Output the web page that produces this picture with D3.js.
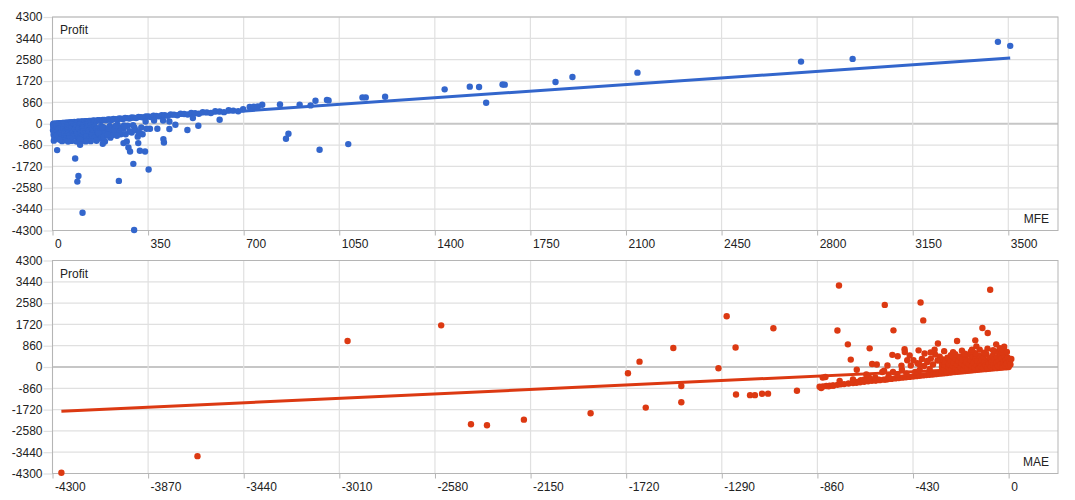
<!DOCTYPE html>
<html>
<head>
<meta charset="utf-8">
<script src="https://cdn.jsdelivr.net/npm/d3@7"></script>
<style>
  body { margin: 0; background: #fff; }
  svg { font-family: "Liberation Sans", Arial, sans-serif; font-size: 12px; }
</style>
</head>
<body>
<svg id="chart" width="1075" height="500"></svg>
<script>
const profitTicks = [-4300, -3440, -2580, -1720, -860, 0, 860, 1720, 2580, 3440, 4300];
const mfeTicks = [0, 350, 700, 1050, 1400, 1750, 2100, 2450, 2800, 3150, 3500];
const maeTicks = [-4300, -3870, -3440, -3010, -2580, -2150, -1720, -1290, -860, -430, 0];

// [MFE, Profit]
const mfePoints = [
  [3,0],[6,-8],[9,6],[12,4],[15,-12],[18,14],[21,10],[24,2],[27,22],[30,20],[34,8],[37,30],[40,28],[44,18],
  [47,40],[50,36],[54,26],[57,48],[61,46],[65,36],[68,58],[72,56],[76,46],[80,68],[84,66],[88,56],[92,80],
  [96,78],[100,66],[105,90],[110,88],[114,76],[119,102],[124,100],[129,88],[134,116],[139,112],[144,100],
  [149,128],[155,126],[160,112],[166,142],[172,140],[178,126],[184,158],[190,154],[196,140],[203,174],
  [210,170],[216,156],[223,192],[230,188],[237,172],[244,212],[251,206],[258,190],[266,232],[274,226],
  [282,208],[290,252],[298,246],[306,228],[315,274],[324,268],[333,250],[342,298],[351,292],[360,272],
  [370,322],[380,316],[390,296],[400,348],[411,340],[422,318],[433,376],[445,366],[457,344],[469,404],
  [482,394],[495,372],[508,436],[522,426],[536,402],[550,470],[565,458],[580,432],[596,506],[612,494],
  [628,468],[645,544],[662,530],[680,505],[698,582],
  [2,-40],[4,-90],[3,-150],[6,-210],[2,-260],[5,-320],[8,-380],[4,-440],[10,-500],[7,-560],[12,-20],
  [14,-110],[16,-180],[13,-240],[18,-300],[15,-360],[20,-420],[17,-470],[22,-540],[25,-60],[27,-130],
  [24,-200],[29,-270],[31,-340],[28,-400],[33,-460],[36,-520],[38,-600],[40,-30],[42,-95],[44,-165],
  [41,-230],[46,-290],[48,-350],[45,-410],[50,-480],[52,-540],[55,-75],[58,-140],[56,-210],[60,-260],
  [62,-330],[59,-390],[64,-450],[66,-620],[70,-40],[72,-115],[69,-190],[74,-250],[76,-310],[73,-370],
  [78,-430],[80,-500],[84,-85],[86,-160],[83,-220],[88,-280],[90,-350],[92,-420],[95,-560],[98,-40],
  [100,-120],[97,-190],[103,-250],[105,-320],[102,-400],[108,-470],[110,-520],[112,-70],[115,-150],
  [118,-230],[114,-300],[120,-380],[124,-450],[127,-30],[130,-110],[128,-190],[133,-270],[136,-340],
  [140,-60],[143,-150],[146,-230],[150,-300],[148,-390],[155,-100],[158,-460],[162,-200],[165,-320],
  [170,-540],[175,-250],[180,-420],[186,-140],[190,-360],[196,-480],[202,-250],[210,-90],[215,-380],
  [222,-180],[230,-300],[240,-120],[250,-420],[260,-200],[275,-80],[290,-350],[300,-150],
  [125,-520],[135,-600],[145,-470],[152,-560],[168,-380],[175,-600],[178,-90],[195,-300],[205,-170],
  [212,-560],[218,-460],[226,-240],[245,-330],[252,-170],[268,-420],[282,-300],[295,-60],[305,-260],
  [312,-520],[325,-150],[330,-420],
  [5,-680],[35,-700],[48,-660],[70,-690],[88,-720],[115,-680],[140,-700],[20,-600],[62,-580],[98,-610],
  [122,-711],[161,-686],[192,-711],[183,-149],[238,-40],[262,-69],[341,93],[372,133],[405,133],
  [428,93],[514,230],[27,-646],[57,-715],[101,-646],
  [612,162],[534,-81],[494,-254],[450,-40],[428,-214],[406,-618],[408,-755],[384,-202],[357,-202],
  [344,-202],[352,-1845],[339,-1118],[320,-1090],[314,-780],[317,-351],[299,-4280],[296,-1615],
  [284,-1118],[278,-957],[272,-715],[260,-780],[243,-2302],[236,-485],[264,-109],[232,-81],[186,-537],
  [184,-808],[201,-444],[110,-3582],[95,-2100],[91,-2330],[83,-1401],[101,-848],[17,-1062],
  [722,674],[737,686],[752,699],[768,767],[833,779],[905,767],[945,739],[963,929],[1005,960],[1011,941],
  [1135,1062],[1147,1062],[1218,1090],[1436,1385],[1528,1494],[1562,1482],[1588,848],[1648,1580],
  [1656,1575],[1842,1684],[1904,1886],[2142,2059],[2741,2503],[2930,2612],[3462,3299],[3507,3137],
  [864,-404],[855,-606],[978,-1050],[1083,-820]
];

// [MAE, Profit]
const maePoints = [
  [-850,-800],[-835,-790],[-820,-770],[-805,-760],[-790,-745],[-770,-720],[-755,-700],[-740,-690],
  [-720,-665],[-700,-650],[-685,-640],[-668,-620],[-650,-600],[-632,-580],[-615,-560],[-598,-545],
  [-580,-530],[-562,-510],[-545,-495],[-528,-480],[-510,-460],[-494,-445],[-478,-430],[-462,-415],
  [-446,-400],[-430,-385],[-415,-370],[-400,-355],[-385,-340],[-370,-328],[-356,-315],[-342,-300],
  [-328,-288],[-315,-275],[-302,-262],[-290,-250],[-278,-240],[-266,-228],[-254,-216],[-242,-205],
  [-230,-195],[-218,-184],[-206,-172],[-195,-162],[-184,-152],[-173,-142],[-162,-132],[-151,-122],
  [-140,-112],[-130,-104],[-120,-95],[-110,-86],[-100,-78],[-90,-70],[-80,-62],[-70,-54],[-60,-46],
  [-50,-38],[-40,-30],[-30,-22],[-20,-15],[-10,-8],[0,0],
  [-836,-427],[-665,-536],[-680,-604],[-650,-508],[-627,-427],[-598,-536],[-583,-508],[-554,-508],
  [-568,-201],[-520,-200],[-500,-300],[-480,-100],[-460,-260],[-440,60],[-420,-200],[-400,-120],
  [-540,-380],[-560,-150],[-600,-420],[-640,-300],[-700,-500],[-760,-560],
  [-300,-150],[-300,0],[-300,150],[-295,300],[-290,-60],[-288,80],[-285,220],[-280,-180],[-275,380],
  [-270,-20],[-268,120],[-262,260],[-258,-120],[-255,440],[-250,40],[-246,180],[-240,-60],[-238,320],
  [-232,100],[-228,-150],[-225,240],[-220,420],[-216,-20],[-212,160],[-208,300],[-202,-100],[-198,60],
  [-195,380],[-190,200],[-185,-40],[-182,500],[-178,120],[-172,280],[-168,-90],[-165,30],[-160,420],
  [-156,180],[-152,-30],[-148,340],[-144,80],[-140,240],[-135,-60],[-132,460],[-128,140],[-124,20],
  [-120,300],[-116,-40],[-112,400],[-108,190],[-104,60],[-100,520],[-96,-20],[-92,260],[-88,120],
  [-84,360],[-80,0],[-76,200],[-72,460],[-68,80],[-64,300],[-60,-10],[-56,160],[-52,400],[-48,40],
  [-44,240],[-40,560],[-36,100],[-32,340],[-28,0],[-24,180],[-20,460],[-16,60],[-12,280],[-8,140],
  [-4,380],[0,40],[4,220],[8,100],[12,320],[-18,640],[-30,600],[-60,620],[-110,580],[-150,560],
  [-200,520],[-240,520],[-260,480],[-310,420],[-320,260],[-330,500],[-340,100],[-350,340],[-355,-80],
  [-365,200],[-380,40],[-390,320],[-410,150],
  [-290,640],[-250,600],[-210,660],[-170,620],[-130,700],[-70,680],[-40,760],[-20,820],
  [-4260,-4272],[-3648,-3599],[-2973,1048],[-2552,1682],[-2418,-2314],[-2346,-2354],[-2180,-2125],
  [-1880,-1870],[-1712,-255],[-1660,217],[-1632,-1640],[-1508,767],[-1472,-767],[-1472,-1426],
  [-1305,-53],[-1268,2052],[-1228,788],[-1226,-1110],[-1163,-1137],[-1141,-1137],[-1109,-1080],
  [-1082,-1075],[-1058,1562],[-952,-960],[-843,-848],[-809,-780],[-789,-752],[-824,-404],[-770,1474],
  [-763,3292],[-723,915],[-710,298],[-683,-113],[-625,754],[-614,121],[-593,100],[-557,2507],
  [-545,60],[-518,1479],[-523,490],[-499,437],[-468,720],[-467,604],[-482,56],[-456,270],[-445,465],
  [-428,270],[-405,673],[-396,2607],[-384,1882],[-402,109],[-378,548],[-366,242],[-351,590],
  [-333,701],[-318,950],[-232,1048],[-197,540],[-165,701],[-150,1076],[-145,834],[-118,1572],
  [-94,1370],[-83,3119],[-56,915],[-95,741],[-26,701],[-8,605]
];

// trend line end points
const mfeTrend = [[0, -20], [3507, 2650]];
const maeTrend = [[-4260, -1790], [7, -5]];

const svg = d3.select("#chart");
const left = 52.5, right = 1058;

function drawPanel(cfg) {
  const x = d3.scaleLinear().domain(cfg.xDomain).range([left, right]);
  const y = d3.scaleLinear().domain([-4300, 4300]).range([cfg.bottom, cfg.top]);
  const g = svg.append("g");

  // grid
  g.selectAll(".hgrid").data(profitTicks).enter().append("line")
    .attr("x1", left).attr("x2", right)
    .attr("y1", d => y(d)).attr("y2", d => y(d))
    .attr("stroke", d => d === 0 ? "#c6c6c6" : "#e0e0e0")
    .attr("stroke-width", d => d === 0 ? 2 : 1.2);
  g.selectAll(".vgrid").data(cfg.xTicks).enter().append("line")
    .attr("x1", d => x(d)).attr("x2", d => x(d))
    .attr("y1", cfg.top).attr("y2", cfg.bottom)
    .attr("stroke", "#e0e0e0").attr("stroke-width", 1.2);

  // axes (plain hyphen for negatives, like the original)
  const ya = g.append("g").attr("transform", "translate(" + left + ",0)")
    .call(d3.axisLeft(y).tickValues(profitTicks).tickSize(9).tickPadding(1).tickFormat(d => String(d)));
  ya.select(".domain").remove();
  ya.selectAll("line").attr("stroke", "#e0e0e0").attr("stroke-width", 1.2);
  ya.selectAll("text").attr("fill", "#222").style("font-size", "12px");

  const xa = g.append("g").attr("transform", "translate(0," + cfg.bottom + ")")
    .call(d3.axisBottom(x).tickValues(cfg.xTicks).tickSize(5).tickPadding(4).tickFormat(d => String(d)));
  xa.select(".domain").remove();
  xa.selectAll("line").attr("stroke", "#b5b5b5");
  xa.selectAll("text").attr("fill", "#222").attr("text-anchor", "start").attr("x", 2)
    .style("font-size", "12px");

  g.append("rect")
    .attr("x", left).attr("y", cfg.top)
    .attr("width", right - left).attr("height", cfg.bottom - cfg.top)
    .attr("fill", "none").attr("stroke", "#b5b5b5");

  // trend line
  g.append("path")
    .datum(cfg.trend)
    .attr("d", d3.line().x(d => x(d[0])).y(d => y(d[1])))
    .attr("stroke", cfg.color).attr("stroke-width", 3).attr("fill", "none");

  g.selectAll(".dot").data(cfg.points).enter().append("circle")
    .attr("cx", d => x(d[0])).attr("cy", d => y(d[1]))
    .attr("r", 3.2).attr("fill", cfg.color);

  g.append("text").attr("x", 60).attr("y", cfg.top + 17)
    .attr("fill", "#222").text("Profit");
  g.append("text").attr("x", 1049).attr("y", cfg.bottom - 8)
    .attr("text-anchor", "end").attr("fill", "#222").text(cfg.xTitle);
}

drawPanel({
  top: 17, bottom: 230.5, xDomain: [0, 3682], xTicks: mfeTicks,
  points: mfePoints, trend: mfeTrend, color: "#3366cc", xTitle: "MFE"
});
drawPanel({
  top: 260.5, bottom: 473.5, xDomain: [-4300, 222], xTicks: maeTicks,
  points: maePoints, trend: maeTrend, color: "#dc3912", xTitle: "MAE"
});
</script>
</body>
</html>
